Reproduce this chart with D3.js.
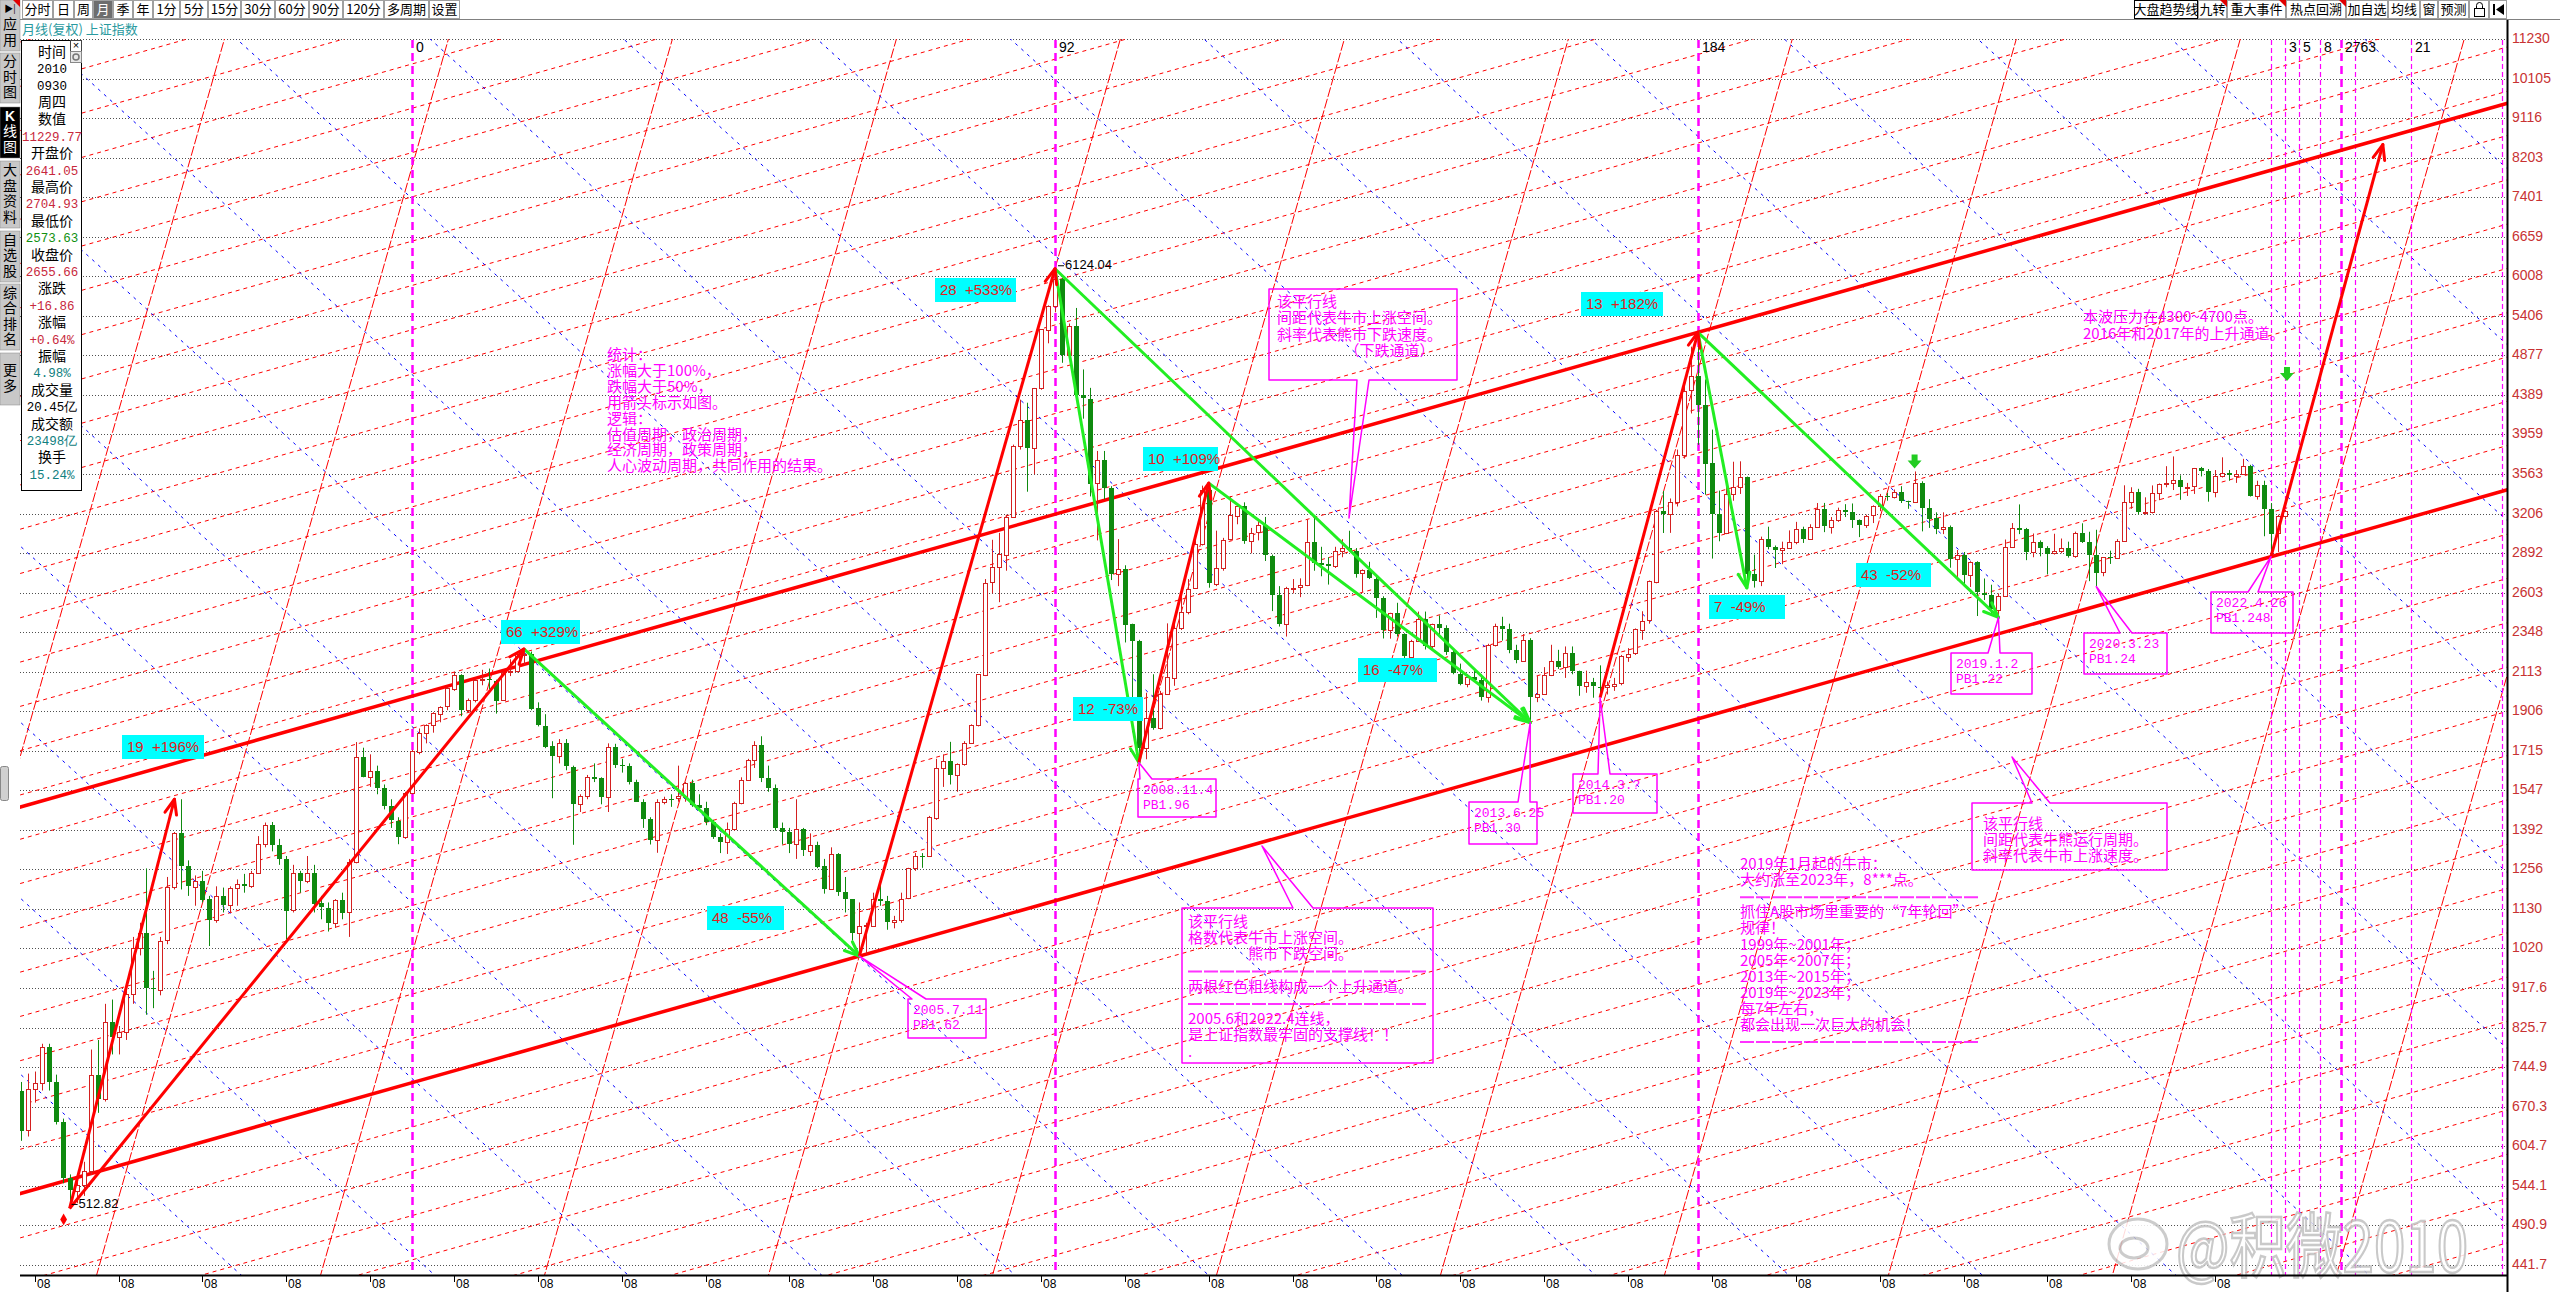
<!DOCTYPE html>
<html><head><meta charset="utf-8">
<script src="https://cdn.jsdelivr.net/npm/d3@7/dist/d3.min.js"></script>
<style>
html,body{margin:0;padding:0;background:#fff;overflow:hidden}
svg{display:block}
</style></head><body>
<svg id="chart" width="2560" height="1292" xmlns="http://www.w3.org/2000/svg"></svg>
<script>
// ================= DATA =================
// month index = (year-1990)*12 + (month-1); first candle = June 1995
const firstMonth = 65;
const openPx = [
700,630,702,714,785,716,644,
555,537,546,566,729,684,839,806,817,903,1020,1060,
917,914,1040,1197,1380,1265,1199,1218,1159,1097,1169,1143,
1194,1206,1200,1243,1343,1411,1339,1290,1125,1242,1217,1244,
1147,1134,1090,1158,1120,1279,1689,1601,1627,1556,1482,1427,
1367,1535,1714,1800,1836,1894,1928,2023,2097,1910,1961,2070,
2073,2065,1960,2112,2119,2214,2218,1920,1834,1737,1690,1750,
1646,1491,1524,1603,1595,1516,1732,1653,1649,1581,1501,1434,
1357,1500,1512,1511,1521,1577,1487,1476,1421,1367,1349,1397,
1497,1590,1675,1742,1595,1555,1399,1386,1342,1396,1320,1340,
1266,1191,1306,1181,1159,1060,1080,1083,1162,1155,1092,1099,
1161,1258,1299,1298,1440,1641,1672,1612,1658,1752,1837,2099,
2675,2786,2881,3183,3841,4109,3820,4471,5218,5552,5955,4871,
5262,4383,4348,3473,3693,3433,2736,2776,2397,2293,1729,1871,
1821,1991,2083,2374,2477,2633,2959,3412,2667,2779,2996,3195,
3277,2989,3051,3110,2871,2592,2398,2638,2641,2656,2979,2820,
2808,2790,2905,2928,2911,2743,2762,2701,2567,2359,2468,2333,
2199,2292,2428,2263,2397,2373,2225,2103,2047,2086,2069,1980,
2269,2385,2366,2237,2178,2301,1979,1994,2098,2175,2141,2221,
2116,2033,2056,2033,2026,2039,2048,2202,2217,2364,2420,2683,
3235,3210,3310,3748,4441,4612,4277,3664,3206,3053,3383,3445,
3539,2738,2688,3004,2938,2917,2930,2979,3085,3005,3100,3250,
3104,3159,3242,3223,3155,3117,3192,3273,3361,3349,3393,3317,
3307,3481,3259,3169,3082,3095,2847,2876,2725,2821,2603,2588,
2494,2585,2941,3091,3078,2899,2979,2932,2886,2905,2929,2871,
3050,2977,2880,2750,2860,2852,2985,3310,3396,3218,3225,3392,
3473,3483,3509,3442,3447,3615,3591,3397,3544,3568,3547,3564,
3640,3361,3462,3252,3047,3186];
const highPx = [
716,732,736,792,792,730,650,
561,552,580,780,800,880,890,830,920,1050,1090,1258,
960,1050,1230,1385,1510,1285,1235,1250,1170,1200,1196,1200,
1222,1240,1250,1370,1420,1422,1360,1300,1270,1250,1300,1270,
1170,1150,1160,1180,1290,1756,1730,1700,1650,1570,1510,1440,
1540,1720,1820,1840,1900,1930,2030,2114,2100,1970,2075,2125,
2132,2070,2116,2185,2215,2245,2230,1950,1890,1760,1770,1770,
1650,1530,1610,1660,1600,1750,1748,1680,1660,1590,1510,1440,
1510,1520,1530,1650,1580,1590,1530,1500,1430,1380,1420,1500,
1600,1680,1760,1783,1650,1570,1420,1400,1510,1400,1380,1350,
1290,1330,1310,1230,1160,1150,1090,1180,1224,1170,1110,1180,
1260,1310,1310,1445,1680,1700,1757,1660,1760,1840,2100,2700,
2995,3050,3200,3850,4335,4300,4471,5220,5560,6124,5980,5300,
5522,4695,4472,3786,3786,3450,3000,2800,2400,2300,2000,2100,
2010,2402,2411,2580,2700,3000,3455,3478,3068,3010,3361,3300,
3306,3090,3150,3181,2880,2650,2645,2700,2705,3160,3186,2940,
2860,2940,3000,3067,2930,2770,2826,2720,2580,2470,2536,2340,
2300,2478,2478,2400,2453,2390,2250,2160,2100,2130,2100,2276,
2400,2444,2400,2270,2335,2310,2090,2140,2270,2240,2260,2260,
2120,2120,2080,2150,2060,2080,2210,2250,2370,2480,2690,3240,
3406,3340,3800,4500,4986,5178,4572,4006,3410,3460,3680,3684,
3539,2880,3020,3100,2950,2980,3070,3140,3100,3120,3300,3301,
3180,3260,3290,3296,3160,3200,3280,3380,3390,3420,3450,3320,
3587,3495,3334,3220,3220,3110,2915,2900,2830,2830,2704,2660,
2600,2997,3130,3288,3090,3045,2990,2945,3043,3005,2980,3060,
3128,3059,3075,2860,2910,3000,3458,3440,3426,3350,3457,3475,
3637,3732,3550,3480,3620,3630,3610,3600,3723,3600,3600,3708,
3650,3500,3500,3300,3200,3240];
const lowPx = [
613,620,678,700,700,640,548,
513,520,530,560,660,680,770,770,800,880,1000,855,
870,900,1030,1190,1190,1170,1140,1150,1025,1090,1120,1120,
1140,1180,1195,1240,1330,1316,1270,1043,1120,1180,1210,1120,
1100,1065,1075,1100,1050,1275,1600,1560,1530,1470,1400,1341,
1360,1530,1700,1750,1800,1850,1910,2010,1880,1900,1950,2040,
2020,1893,1960,2090,2110,2150,1910,1830,1728,1514,1660,1630,
1339,1460,1510,1580,1490,1460,1640,1620,1570,1500,1400,1340,
1311,1490,1480,1500,1500,1480,1470,1410,1360,1310,1307,1390,
1490,1590,1640,1580,1540,1390,1340,1310,1290,1300,1300,1259,
1177,1190,1170,1120,1040,998,1004,1080,1140,1070,1074,1090,
1160,1250,1260,1298,1430,1560,1570,1540,1650,1750,1830,2090,
2600,2540,2760,3180,3800,3400,3560,4450,5030,5460,4778,4812,
4330,4123,3358,2990,3333,2693,2650,2284,1802,1664,1678,1814,
1815,1990,2037,2360,2460,2630,2950,2639,2650,2760,2990,3120,
2963,2890,2990,2832,2481,2382,2320,2600,2574,2650,2760,2720,
2661,2780,2860,2900,2710,2610,2700,2437,2308,2307,2320,2149,
2132,2290,2242,2250,2330,2210,2100,2040,2029,2060,1959,1949,
2260,2295,2220,2162,2170,1849,1951,1990,2090,2130,2080,2100,
1984,2000,1974,2000,1991,2010,2040,2170,2210,2300,2400,2670,
3049,3050,3270,3710,4180,3847,3373,2850,2983,3040,3320,3380,
2638,2640,2650,2920,2780,2808,2930,2960,2970,3000,3090,3056,
3044,3140,3180,3090,3016,3090,3130,3230,3320,3340,3300,3250,
3300,3062,3090,3040,3040,2782,2691,2653,2644,2449,2555,2462,
2440,2580,2940,3040,2838,2860,2867,2733,2880,2890,2857,2856,
2970,2685,2647,2720,2810,2850,2985,3250,3202,3200,3210,3325,
3440,3415,3328,3362,3380,3540,3312,3350,3530,3500,3480,3560,
3357,3330,3023,2864,2900,3160];
const closePx = [
630,702,714,785,716,644,555,
537,546,566,729,684,839,806,817,903,1020,1060,917,
914,1040,1197,1380,1265,1199,1218,1159,1097,1169,1143,1194,
1206,1200,1243,1343,1411,1339,1290,1125,1242,1217,1244,1147,
1134,1090,1158,1120,1279,1689,1601,1627,1556,1482,1427,1367,
1535,1714,1800,1836,1894,1928,2023,2097,1910,1961,2070,2073,
2065,1960,2112,2119,2214,2218,1920,1834,1737,1690,1750,1646,
1491,1524,1603,1595,1516,1732,1653,1649,1581,1501,1434,1357,
1500,1512,1511,1521,1577,1487,1476,1421,1367,1349,1397,1497,
1590,1675,1742,1595,1555,1399,1386,1342,1396,1320,1340,1266,
1191,1306,1181,1159,1060,1080,1083,1162,1155,1092,1099,1161,
1258,1299,1298,1440,1641,1672,1612,1658,1752,1837,2099,2675,
2786,2881,3183,3841,4109,3820,4471,5218,5552,5955,4871,5262,
4383,4348,3473,3693,3433,2736,2776,2397,2293,1729,1871,1821,
1991,2083,2374,2477,2633,2959,3412,2667,2779,2996,3195,3277,
2989,3051,3110,2871,2592,2398,2638,2639,2656,2979,2820,2808,
2790,2905,2928,2911,2743,2762,2701,2567,2359,2468,2333,2199,
2292,2428,2263,2397,2373,2225,2103,2047,2086,2069,1980,2269,
2385,2366,2237,2178,2301,1979,1994,2098,2175,2141,2221,2116,
2033,2056,2033,2026,2039,2048,2202,2217,2364,2420,2683,3235,
3210,3310,3748,4441,4612,4277,3664,3206,3053,3383,3445,3539,
2738,2688,3004,2938,2917,2930,2979,3085,3005,3100,3250,3104,
3159,3242,3223,3155,3117,3192,3273,3361,3349,3393,3317,3307,
3481,3259,3169,3082,3095,2847,2876,2725,2821,2603,2588,2494,
2585,2941,3091,3078,2899,2979,2932,2886,2905,2929,2871,3050,
2977,2880,2750,2860,2852,2985,3310,3396,3218,3225,3392,3473,
3483,3509,3442,3447,3615,3591,3397,3544,3568,3547,3564,3640,
3361,3462,3252,3047,3186,3230];

const priceTicks = [11230,10105,9116,8203,7401,6659,6008,5406,4877,4389,3959,3563,3206,2892,2603,2348,2113,1906,1715,1547,1392,1256,1130,1020,917.6,825.7,744.9,670.3,604.7,544.1,490.9,441.7];
const tickYears = [1995,1996,1997,1998,1999,2000,2001,2002,2003,2004,2005,2006,2007,2008,2009,2010,2011,2012,2013,2014,2015,2016,2017,2018,2019,2020,2021];
const tickMonthLabel = "08";

// trend-line tool data (month index, price)
const supportLine = [[185, 998], [387, 2864]];   // 2005.6 low -> 2022.4 low
const resistancePoint = [305, 5178];            // 2015.6 high
const channelGridStep = 0.1169;                 // ln-price step of the thin parallel lines
const bearAnchor = [213, 6342];
const bearSlope = -0.01678;                     // ln-price per month
const bearGridStep = 0.4645;
const bullAnchor = [185, 998];
const bullSlope = 0.0648;
const bullGridStep = 32.05;                     // months

const bullArrows = [[72,512.82,87,1510],[72,512.82,137,2245],[185,998,213,6124],[225,1664,235,3478],[291,1974,305,5178],[387,2864,403,8500]];
const bearArrows = [[137,2245,185,998],[213,6124,225,1664],[213,6124,281,1849],[235,3478,281,1849],[305,5178,312,2638],[305,5178,348,2440]];
const moveLabels = ["19  +196%","66  +329%","48  -55%","28  +533%","12  -73%","10  +109%","16  -47%","13  +182%","7  -49%","43  -52%"];

const cycleMarks = [121, 213, 305];
const cycleLabels = ["0", "92", "184"];
const fibMarks = [387, 389, 391, 394, 397, 399, 407, 420];
const fibLabelMonths = [389, 391, 394, 397, 407];
const fibLabels = ["3", "5", "8", "2763", "21"];

const noteMonths = [185, 225, 281, 291, 348, 362, 387];
const notePrices = [998, 1664, 1849, 1974, 2440, 2647, 2864];
const noteDates = ["2005.7.11","2008.11.4","2013.6.25","2014.3.?","2019.1.2","2020.3.23","2022.4.26"];
const notePB = ["PB1.62","PB1.96","PB1.30","PB1.20","PB1.22","PB1.24","PB1.248"];

const statText = ["统计：","涨幅大于100%，","跌幅大于50%，","用箭头标示如图。","逻辑：","估值周期，政治周期，","经济周期，政策周期，","人心波动周期，共同作用的结果。"];
const bearBoxText = ["该平行线","间距代表牛市上涨空间。","斜率代表熊市下跌速度。","　　　　　（下跌通道）"];
const gridBoxText = ["该平行线","格数代表牛市上涨空间。","　　　　熊市下跌空间。","—","两根红色粗线构成一个上升通道。","—","2005.6和2022.4连线，","是上证指数最牢固的支撑线！！","."];
const cycleBoxText = ["该平行线","间距代表牛熊运行周期。","斜率代表牛市上涨速度。"];
const outlookText = ["2019年1月起的牛市：","大约涨至2023年，8***点。","—","抓住A股市场里重要的“7年轮回”","规律！","1999年~2001年；","2005年~2007年；","2013年~2015年；","2019年~2023年；","每7年左右，","都会出现一次巨大的机会！","—"];
const pressureText = ["本波压力在4300~4700点。","2016年和2017年的上升通道。"];

const panelRows = ["时间","2010","0930","周四","数值","11229.77","开盘价","2641.05","最高价","2704.93","最低价","2573.63","收盘价","2655.66","涨跌","+16.86","涨幅","+0.64%","振幅","4.98%","成交量","20.45亿","成交额","23498亿","换手","15.24%"];
const panelColors = ["k","k","k","k","k","r","k","r","k","r","k","g","k","r","k","r","k","r","k","t","k","k","k","t","k","t"];
const periodButtons = ["分时","日","周","月","季","年","1分","5分","15分","30分","60分","90分","120分","多周期","设置"];
const toolButtons = ["大盘趋势线","九转","重大事件","热点回溯","加自选","均线","窗","预测"];
const sideTabs = [["▶","应","用"],["分","时","图"],["K","线","图"],["大","盘","资","料"],["自","选","股"],["综","合","排","名"],["更","多"]];

// ================= LAYOUT =================
const W = 2560, H = 1292, L = 20, R = 2507, T = 40, B = 1275;
const CJK = '"Noto Sans CJK SC","Noto Sans",sans-serif';
const LAT = '"Liberation Sans",Arial,sans-serif';
const MONO = '"Liberation Mono","DejaVu Sans Mono",monospace';
const MAG = "#ff00ff";
const labelBoxes = [[122,735,82],[501,620,79],[707,906,77],[935,278,81],[1073,697,70],[1143,447,75],[1358,658,79],[1581,292,82],[1709,595,76],[1856,563,75]];
const noteBoxes = [[908,999,78,39,912,926],[1138,779,78,38,1140,1152],[1469,802,68,42,1518,1530],[1573,774,84,39,1598,1610],[1951,653,81,41,1988,2000],[2084,633,83,41,2120,2132],[2211,592,82,41,2248,2258]];

const x = d3.scaleLinear().domain([213, 387]).range([1055, 2271]);
const y = d3.scaleLog().domain([441.7, 11230]).range([1265, 39]);

const svg = d3.select("#chart");
svg.append("rect").attr("width", W).attr("height", H).attr("fill", "#fff");
svg.append("defs").append("clipPath").attr("id", "plot")
  .append("rect").attr("x", L).attr("y", T - 1).attr("width", R - L).attr("height", B - T + 1);
const g = svg.append("g").attr("clip-path", "url(#plot)");

// horizontal dotted grid
g.selectAll("line.hg").data(priceTicks).join("line").attr("class", "hg")
  .attr("x1", L).attr("x2", R)
  .attr("y1", d => Math.round(y(d)) + 0.5).attr("y2", d => Math.round(y(d)) + 0.5)
  .attr("stroke", "#505050").attr("stroke-width", 1).attr("stroke-dasharray", "1,2");

// parallel-line families in (month, ln price) space
const tA = x.invert(L - 200), tB = x.invert(R + 200);
function famSeg(t0, lv0, slope) {
  return [x(tA), y(Math.exp(lv0 + slope * (tA - t0))), x(tB), y(Math.exp(lv0 + slope * (tB - t0)))];
}
const supSlope = (Math.log(supportLine[1][1]) - Math.log(supportLine[0][1])) / (supportLine[1][0] - supportLine[0][0]);
function drawSeg(sel, s) {
  return sel.append("line").attr("x1", s[0]).attr("y1", s[1]).attr("x2", s[2]).attr("y2", s[3]);
}
// steep bull-speed lines
const steepG = g.append("g").attr("stroke", "#ff0000").attr("stroke-width", 1).attr("stroke-dasharray", "10,2").attr("fill", "none");
d3.range(-6, 10).forEach(k => drawSeg(steepG, famSeg(bullAnchor[0] + k * bullGridStep, Math.log(bullAnchor[1]), bullSlope)));
// thin channel grid
const chanG = g.append("g").attr("stroke", "#ff0000").attr("stroke-width", 1).attr("stroke-dasharray", "4,4").attr("fill", "none");
d3.range(-20, 31).forEach(k => { if (k !== 0) drawSeg(chanG, famSeg(supportLine[0][0], Math.log(supportLine[0][1]) + k * channelGridStep, supSlope)); });
// blue bear-speed lines
const bearG = g.append("g").attr("stroke", "#0000ff").attr("stroke-width", 1).attr("stroke-dasharray", "3,5").attr("fill", "none");
d3.range(-10, 13).forEach(k => drawSeg(bearG, famSeg(bearAnchor[0], Math.log(bearAnchor[1]) + k * bearGridStep, bearSlope)));

// vertical magenta time lines
cycleMarks.forEach(t => {
  g.append("line").attr("x1", Math.round(x(t)) + 0.5).attr("x2", Math.round(x(t)) + 0.5).attr("y1", T).attr("y2", B)
    .attr("stroke", MAG).attr("stroke-width", 2.5).attr("stroke-dasharray", "8,5");
});
fibMarks.forEach(t => {
  g.append("line").attr("x1", Math.round(x(t)) + 0.5).attr("x2", Math.round(x(t)) + 0.5).attr("y1", T).attr("y2", B)
    .attr("stroke", MAG).attr("stroke-width", t === 397 ? 2.5 : 1.2).attr("stroke-dasharray", t === 397 ? "8,5" : "5,3");
});

// channel thick lines
const gCh = g.append("g").attr("stroke", "#ff0000").attr("stroke-width", 3.5);
drawSeg(gCh, famSeg(supportLine[0][0], Math.log(supportLine[0][1]), supSlope));
drawSeg(gCh, famSeg(resistancePoint[0], Math.log(resistancePoint[1]), supSlope));

// candles
const candles = closePx.map((c, i) => ({ t: firstMonth + i, o: openPx[i], h: highPx[i], l: lowPx[i], c }));
const UP = "#d42020", DN = "#0f8a0f";
const cg = g.append("g");
candles.forEach(d => {
  const cx = Math.round(x(d.t));
  const up = d.c >= d.o;
  const col = up ? UP : DN;
  cg.append("line").attr("x1", cx + 0.5).attr("x2", cx + 0.5).attr("y1", y(d.h)).attr("y2", y(d.l))
    .attr("stroke", col).attr("stroke-width", 1);
  const yt = y(Math.max(d.o, d.c)), yb = y(Math.min(d.o, d.c));
  if (up) {
    cg.append("rect").attr("x", cx - 2 + 0.5).attr("y", Math.round(yt) + 0.5).attr("width", 4)
      .attr("height", Math.max(1, Math.round(yb - yt))).attr("fill", "#fff").attr("stroke", col).attr("stroke-width", 1);
  } else {
    cg.append("rect").attr("x", cx - 2).attr("y", Math.round(yt)).attr("width", 5)
      .attr("height", Math.max(1, Math.round(yb - yt))).attr("fill", col);
  }
});

// arrows
function drawArrow(sel, a, color) {
  const x1 = x(a[0]), y1 = y(a[1]), x2 = x(a[2]), y2 = y(a[3]);
  sel.append("line").attr("x1", x1).attr("y1", y1).attr("x2", x2).attr("y2", y2).attr("stroke", color).attr("stroke-width", 3);
  const ang = Math.atan2(y2 - y1, x2 - x1), len = 16, sp = 0.38;
  [ang + sp, ang - sp].forEach(a2 => {
    sel.append("line").attr("x1", x2).attr("y1", y2).attr("x2", x2 - len * Math.cos(a2)).attr("y2", y2 - len * Math.sin(a2))
      .attr("stroke", color).attr("stroke-width", 3).attr("stroke-linecap", "round");
  });
}
const ag = svg.append("g");
bearArrows.forEach(a => drawArrow(ag, a, "#22ee22"));
bullArrows.forEach(a => drawArrow(ag, a, "#ff0000"));

// extreme labels
const t0 = bullArrows[0];
ag.append("path").attr("d", d3.symbol(d3.symbolDiamond, 40)()).attr("fill", "#ff0000")
  .attr("transform", `translate(${x(t0[0]) - 6},${y(t0[1]) + 11})`);
ag.append("line").attr("x1", x(t0[0]) + 2).attr("x2", x(t0[0]) + 8).attr("y1", y(t0[1]) - 4).attr("y2", y(t0[1]) - 4).attr("stroke", "#000");
ag.append("text").attr("x", x(t0[0]) + 9).attr("y", y(t0[1]) - 4).attr("dominant-baseline", "middle")
  .attr("font-family", LAT).attr("font-size", 13).attr("fill", "#000").text("512.82");
ag.append("line").attr("x1", x(213) + 3).attr("x2", x(213) + 9).attr("y1", y(6124) - 3).attr("y2", y(6124) - 3).attr("stroke", "#000");
ag.append("text").attr("x", x(213) + 10).attr("y", y(6124) - 3).attr("dominant-baseline", "middle")
  .attr("font-family", LAT).attr("font-size", 13).attr("fill", "#000").text("6124.04");

// green down-arrow markers
function downArrow(cx, cy) {
  ag.append("path").attr("d", `M${cx - 3},${cy - 7}h6v6h4l-7,8l-7,-8h4z`).attr("fill", "#22cc22");
}
downArrow(x(336), y(3587) - 10);
downArrow(x(389) + 2, y(4640));

// cyan move labels
labelBoxes.forEach((b, i) => {
  ag.append("rect").attr("x", b[0]).attr("y", b[1]).attr("width", b[2]).attr("height", 24).attr("fill", "#00ffff");
  ag.append("text").attr("x", b[0] + 5).attr("y", b[1] + 13).attr("dominant-baseline", "middle")
    .attr("font-family", LAT).attr("font-size", 15).attr("fill", "#e02020").attr("xml:space", "preserve").text(moveLabels[i]);
});

// text blocks
function textBlock(lines, x0, y0, lh, size) {
  const tg = svg.append("g");
  lines.forEach((s, i) => {
    if (s === "—") {
      tg.append("line").attr("x1", x0).attr("x2", x0 + 240).attr("y1", y0 + i * lh).attr("y2", y0 + i * lh)
        .attr("stroke", MAG).attr("stroke-width", 2).attr("stroke-dasharray", "14,2").attr("opacity", 0.8);
    } else {
      tg.append("text").attr("x", x0).attr("y", y0 + i * lh).attr("dominant-baseline", "middle")
        .attr("font-family", CJK).attr("font-size", size).attr("fill", MAG).text(s);
    }
  });
  return tg;
}
textBlock(statText, 607, 356, 15.9, 15);
textBlock(outlookText, 1740, 865, 16.1, 15);
textBlock(pressureText, 2083, 318, 16.5, 15);

// callout boxes
function callout(box, side, nx0, nx1, tx, ty) {
  const [x0, y0, x1, y1] = box;
  const p = side === "top"
    ? `M${x0},${y0}L${nx0},${y0}L${tx},${ty}L${nx1},${y0}L${x1},${y0}L${x1},${y1}L${x0},${y1}Z`
    : `M${x0},${y0}L${x1},${y0}L${x1},${y1}L${nx1},${y1}L${tx},${ty}L${nx0},${y1}L${x0},${y1}Z`;
  svg.append("path").attr("d", p).attr("fill", "none").attr("stroke", MAG).attr("stroke-width", 1.5).attr("stroke-linejoin", "round");
}
callout([1269, 289, 1457, 380], "bottom", 1357, 1369, 1349, 518);
textBlock(bearBoxText, 1277, 303, 16.3, 15);
callout([1182, 908, 1433, 1063], "top", 1293, 1313, 1262, 846);
textBlock(gridBoxText, 1188, 923, 16.2, 15);
callout([1972, 803, 2167, 870], "top", 2032, 2050, 2012, 757);
textBlock(cycleBoxText, 1983, 825, 16, 15);

// date/PB notes
noteBoxes.forEach((b, i) => {
  const tx = x(noteMonths[i]), ty = y(notePrices[i]);
  callout([b[0], b[1], b[0] + b[2], b[1] + b[3]], "top", b[4], b[5], tx, ty);
  [noteDates[i], notePB[i]].forEach((s, j) => {
    svg.append("text").attr("x", b[0] + 5).attr("y", b[1] + 12 + j * 15).attr("dominant-baseline", "middle")
      .attr("font-family", MONO).attr("font-size", 13).attr("fill", MAG).text(s);
  });
});

// time-line labels
cycleMarks.forEach((t, i) => svg.append("text").attr("x", Math.round(x(t)) + 4).attr("y", 48).attr("dominant-baseline", "middle")
  .attr("font-family", LAT).attr("font-size", 14).attr("fill", "#000").text(cycleLabels[i]));
fibLabelMonths.forEach((t, i) => svg.append("text").attr("x", Math.round(x(t)) + 4).attr("y", 48).attr("dominant-baseline", "middle")
  .attr("font-family", LAT).attr("font-size", 14).attr("fill", "#000").text(fibLabels[i]));

// watermark (drawn before axis labels so labels stay on top)
const wm = svg.append("g").attr("opacity", 0.85);
wm.append("ellipse").attr("cx", 2138).attr("cy", 1244).attr("rx", 29).attr("ry", 25).attr("fill", "#fff").attr("stroke", "#c4c4c4").attr("stroke-width", 3);
wm.append("ellipse").attr("cx", 2134).attr("cy", 1248).attr("rx", 14).attr("ry", 10).attr("fill", "none").attr("stroke", "#c4c4c4").attr("stroke-width", 3);
wm.append("text").attr("x", 2176).attr("y", 1272).attr("font-family", CJK).attr("font-size", 70)
  .attr("textLength", 292).attr("lengthAdjust", "spacingAndGlyphs")
  .attr("fill", "#fff").attr("stroke", "#c0c0c0").attr("stroke-width", 2.5).text("@积微2010");

// axes
svg.append("line").attr("x1", R + 0.5).attr("x2", R + 0.5).attr("y1", 20).attr("y2", H).attr("stroke", "#000").attr("stroke-width", 2);
svg.append("line").attr("x1", L).attr("x2", R).attr("y1", B + 0.5).attr("y2", B + 0.5).attr("stroke", "#000").attr("stroke-width", 2);
svg.selectAll("text.yl").data(priceTicks).join("text").attr("class", "yl")
  .attr("x", R + 5).attr("y", d => y(d)).attr("dominant-baseline", "middle")
  .attr("font-family", LAT).attr("font-size", 14).attr("fill", "#c83232").text(d => d);
const xTicks = tickYears.map(yr => (yr - 1990) * 12 + 7);
svg.selectAll("line.xt").data(xTicks).join("line").attr("class", "xt")
  .attr("x1", d => Math.round(x(d)) + 0.5).attr("x2", d => Math.round(x(d)) + 0.5).attr("y1", B).attr("y2", B + 7).attr("stroke", "#000");
svg.selectAll("text.xl").data(xTicks).join("text").attr("class", "xl")
  .attr("x", d => Math.round(x(d)) + 2).attr("y", B + 10).attr("dominant-baseline", "middle")
  .attr("font-family", LAT).attr("font-size", 12).attr("fill", "#000").text(tickMonthLabel);

// ===== chrome: toolbar, title, side tabs, info panel =====
svg.append("rect").attr("x", 0).attr("y", 0).attr("width", W).attr("height", 19).attr("fill", "#fff");
svg.append("line").attr("x1", 0).attr("x2", W).attr("y1", 19.5).attr("y2", 19.5).attr("stroke", "#808080");
const pbX = [22, 53, 74, 93, 113, 133, 153, 180, 208, 241, 275, 309, 343, 384, 429, 460];
periodButtons.forEach((s, i) => {
  const a = pbX[i], b = pbX[i + 1], sel = s === "月";
  svg.append("rect").attr("x", a + 0.5).attr("y", 0.5).attr("width", b - a - 1).attr("height", 18)
    .attr("fill", sel ? "#6e6e6e" : "#fff").attr("stroke", "#a0a0a0");
  svg.append("text").attr("x", (a + b) / 2).attr("y", 10).attr("text-anchor", "middle").attr("dominant-baseline", "middle")
    .attr("font-family", CJK).attr("font-size", 13).attr("fill", sel ? "#fff" : "#000").text(s);
});
const tbX = [2134, 2198, 2227, 2286, 2346, 2388, 2420, 2438, 2469];
toolButtons.forEach((s, i) => {
  const a = tbX[i], b = tbX[i + 1];
  svg.append("rect").attr("x", a + 0.5).attr("y", 0.5).attr("width", b - a - 1).attr("height", 18)
    .attr("fill", "#fff").attr("stroke", i === 0 ? "#000" : "#a0a0a0");
  svg.append("text").attr("x", (a + b) / 2).attr("y", 10).attr("text-anchor", "middle").attr("dominant-baseline", "middle")
    .attr("font-family", CJK).attr("font-size", 13).attr("fill", "#000").text(s);
  if (i >= 1 && i <= 3) svg.append("path").attr("d", `M${b - 7},0H${b}V7Z`).attr("fill", "#e00000");
});
// lock + back icons
svg.append("rect").attr("x", 2469.5).attr("y", 0.5).attr("width", 19).attr("height", 18).attr("fill", "#fff").attr("stroke", "#a0a0a0");
svg.append("rect").attr("x", 2474.5).attr("y", 8.5).attr("width", 10).attr("height", 8).attr("fill", "none").attr("stroke", "#000");
svg.append("path").attr("d", "M2476.5,8.5V5.5a3,3 0 0 1 6,0V8.5").attr("fill", "none").attr("stroke", "#000");
svg.append("rect").attr("x", 2489.5).attr("y", 0.5).attr("width", 17).attr("height", 18).attr("fill", "#fff").attr("stroke", "#a0a0a0");
svg.append("path").attr("d", "M2493,4h2v11h-2zM2504,4v11l-8,-5.5z").attr("fill", "#000");

svg.append("text").attr("x", 22).attr("y", 30).attr("dominant-baseline", "middle").attr("font-family", CJK).attr("font-size", 13)
  .attr("fill", "#2a9aa0").text("月线(复权)  上证指数");

// side tabs
const tabY = [[0, 51], [53, 103], [107, 158], [161, 228], [231, 282], [284, 350], [353, 405]];
sideTabs.forEach((chars, i) => {
  const [a, b] = tabY[i], active = i === 2;
  svg.append("rect").attr("x", 0).attr("y", a).attr("width", 20).attr("height", b - a)
    .attr("fill", active ? "#000" : "#c8c8c8").attr("stroke", "#888").attr("stroke-width", 0.5);
  const n = chars.length, mid = (a + b) / 2;
  chars.forEach((c, j) => {
    svg.append("text").attr("x", 10).attr("y", mid + (j - (n - 1) / 2) * 15.5).attr("text-anchor", "middle")
      .attr("dominant-baseline", "middle").attr("font-family", c === "K" ? LAT : CJK).attr("font-weight", c === "K" ? "bold" : "normal")
      .attr("font-size", c === "▶" ? 9 : 14).attr("fill", active ? "#fff" : "#000").text(c === "▶" ? "▶|" : c);
  });
});
svg.append("path").attr("d", "M13,0H20V7Z").attr("fill", "#e00000");
// scroll grip
svg.append("rect").attr("x", 0.5).attr("y", 766.5).attr("width", 8).attr("height", 34).attr("rx", 2).attr("fill", "#d0d0d0").attr("stroke", "#888");

// info panel
svg.append("rect").attr("x", 21.5).attr("y", 40.5).attr("width", 60).attr("height", 450).attr("fill", "#fff").attr("stroke", "#000");
svg.append("rect").attr("x", 70.5).attr("y", 40.5).attr("width", 11).attr("height", 11).attr("fill", "#fff").attr("stroke", "#444");
svg.append("text").attr("x", 76).attr("y", 46.5).attr("text-anchor", "middle").attr("dominant-baseline", "middle").attr("font-size", 11).attr("font-family", LAT).text("×");
svg.append("rect").attr("x", 70.5).attr("y", 51.5).attr("width", 11).attr("height", 11).attr("fill", "#e8e8e8").attr("stroke", "#888");
svg.append("circle").attr("cx", 76).attr("cy", 57).attr("r", 3).attr("fill", "none").attr("stroke", "#777").attr("stroke-width", 1.5);
const pc = { k: "#000", r: "#c8283c", g: "#109010", t: "#108080" };
panelRows.forEach((s, i) => {
  const isNum = /^[0-9+.%]/.test(s);
  svg.append("text").attr("x", 52).attr("y", 53 + i * 16.9).attr("text-anchor", "middle").attr("dominant-baseline", "middle")
    .attr("font-family", isNum ? MONO : CJK).attr("font-size", isNum ? 12.5 : 14).attr("fill", pc[panelColors[i]]).text(s);
});
</script>
</body></html>
